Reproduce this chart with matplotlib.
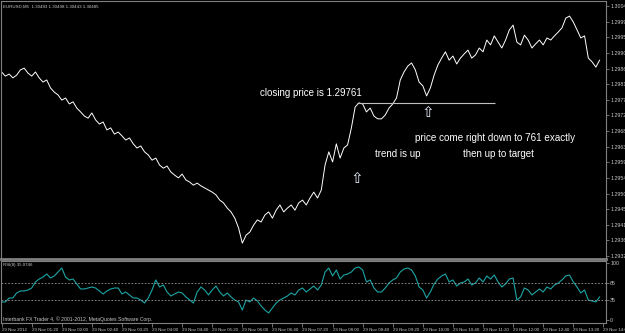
import matplotlib.pyplot as plt
import pandas as pd
import numpy as np

# EURUSD M5, 29 Nov 2012, closes (one per bar from 00:40)
close = [
    1.29850, 1.29838, 1.29844, 1.29833, 1.29841, 1.29856, 1.29861, 1.29847, 1.29838, 1.29850,
    1.29833, 1.29821, 1.29827, 1.29804, 1.29792, 1.29784, 1.29769, 1.29775, 1.29758, 1.29764,
    1.29746, 1.29735, 1.29723, 1.29717, 1.29732, 1.29712, 1.29700, 1.29706, 1.29683, 1.29689,
    1.29671, 1.29677, 1.29666, 1.29654, 1.29660, 1.29643, 1.29631, 1.29637, 1.29620, 1.29611,
    1.29596, 1.29602, 1.29582, 1.29573, 1.29579, 1.29562, 1.29553, 1.29545, 1.29556, 1.29539,
    1.29533, 1.29524, 1.29530, 1.29522, 1.29516, 1.29510, 1.29504, 1.29496, 1.29481, 1.29473,
    1.29458, 1.29447, 1.29429, 1.29401, 1.29357, 1.29380, 1.29389, 1.29409, 1.29424, 1.29418,
    1.29438, 1.29447, 1.29429, 1.29452, 1.29467, 1.29447, 1.29458, 1.29467, 1.29452, 1.29473,
    1.29481, 1.29467, 1.29487, 1.29504, 1.29487, 1.29510, 1.29582, 1.29620, 1.29591, 1.29643,
    1.29602, 1.29631, 1.29640, 1.29689, 1.29749, 1.29761, 1.29758, 1.29735, 1.29746, 1.29723,
    1.29715, 1.29715, 1.29726, 1.29746, 1.29758, 1.29775, 1.29827, 1.29850, 1.29867, 1.29876,
    1.29856, 1.29821, 1.29810, 1.29781, 1.29804, 1.29841, 1.29870, 1.29890, 1.29908, 1.29884,
    1.29896, 1.29873, 1.29890, 1.29902, 1.29913, 1.29890, 1.29899, 1.29919, 1.29908, 1.29942,
    1.29928, 1.29954, 1.29936, 1.29919, 1.29942, 1.29971, 1.29985, 1.29936, 1.29928, 1.29956,
    1.29942, 1.29919, 1.29931, 1.29942, 1.29928, 1.29948, 1.29942, 1.29954, 1.29965, 1.29977,
    1.30005, 1.30011, 1.29994, 1.29971, 1.29948, 1.29954, 1.29890, 1.29879, 1.29864, 1.29884,
]

# RSI(8) values
rsi = [
    31.6, 31.6, 38.6, 38.6, 47.4, 50.9, 50.9, 52.6, 56.1, 66.7,
    71.9, 75.4, 80.7, 73.7, 77.2, 84.2, 91.2, 75.4, 70.2, 71.9,
    63.2, 54.4, 54.4, 56.1, 57.9, 56.1, 50.9, 45.6, 50.9, 54.4,
    56.1, 56.1, 45.6, 49.1, 43.9, 38.6, 38.6, 35.1, 29.8, 38.6,
    52.6, 70.2, 57.9, 61.4, 49.1, 42.1, 45.6, 49.1, 47.4, 40.4,
    35.1, 29.8, 49.1, 57.9, 52.6, 43.9, 52.6, 59.6, 49.1, 42.1,
    47.4, 40.4, 35.1, 31.6, 17.5, 35.1, 31.6, 38.6, 33.3, 24.6,
    17.5, 12.3, 21.1, 29.8, 35.1, 38.6, 42.1, 47.4, 43.9, 52.6,
    56.1, 49.1, 54.4, 59.6, 52.6, 61.4, 84.2, 91.2, 77.2, 87.7,
    71.9, 78.9, 80.7, 84.2, 91.2, 93.0, 87.7, 66.7, 70.2, 56.1,
    49.1, 49.1, 56.1, 64.9, 70.2, 73.7, 84.2, 89.5, 91.2, 87.7,
    77.2, 57.9, 52.6, 38.6, 49.1, 63.2, 71.9, 77.2, 80.7, 66.7,
    70.2, 59.6, 64.9, 66.7, 71.9, 61.4, 64.9, 73.7, 66.7, 77.2,
    71.9, 78.9, 66.7, 57.9, 63.2, 71.9, 73.7, 35.1, 40.4, 56.1,
    52.6, 43.9, 49.1, 54.4, 49.1, 57.9, 54.4, 61.4, 64.9, 70.2,
    77.2, 78.9, 66.7, 57.9, 47.4, 52.6, 35.1, 33.3, 31.6, 40.4,
]

price_ticks = [1.29320, 1.29365, 1.29410, 1.29455, 1.29500, 1.29545, 1.29590, 1.29635, 1.29680,
               1.29725, 1.29770, 1.29815, 1.29860, 1.29905, 1.29950, 1.29995, 1.30040]
time_ticks = ['00:40', '01:20', '02:00', '02:40', '03:20', '04:00', '04:40', '05:20', '06:00',
              '06:40', '07:20', '08:00', '08:40', '09:20', '10:00', '10:40', '11:20', '12:00',
              '12:40', '13:20', '14:00']
time_labels = ['29 Nov 2012'] + ['29 Nov ' + t for t in time_ticks[1:]]
rsi_levels = [35, 65]
closing_level = 1.29761

start = pd.Timestamp('2012-11-29 00:40')
bars = np.arange(len(close))
tick_bars = [(pd.Timestamp('2012-11-29 ' + t) - start) / pd.Timedelta('5min') for t in time_ticks]

W, H = 625, 333
fig = plt.figure(figsize=(W / 100, H / 100), dpi=100, facecolor='black')
plt.rcParams['font.family'] = ['Liberation Sans', 'DejaVu Sans']

def px_axes(x0, y0, x1, y1):
    return fig.add_axes([x0 / W, 1 - y1 / H, (x1 - x0) / W, (y1 - y0) / H])

frame = '#808080'
txt = '#c8c8c8'

ax = px_axes(1, 1, 606, 259)
ax.set_facecolor('black')
ax.plot(bars, close, color='white', lw=0.7)
ax.set_xlim(-0.16, 160.7)
ax.set_ylim(1.293114, 1.300544)
ax.yaxis.tick_right()
ax.set_yticks(price_ticks)
ax.set_yticklabels([f'{p:.5f}' for p in price_ticks])
ax.tick_params(axis='y', colors=frame, labelcolor=txt, labelsize=3.8, length=2, width=0.6, pad=1)
ax.set_xticks([])
for s in ax.spines.values():
    s.set_color(frame)
    s.set_linewidth(0.8)
ax.spines['bottom'].set_linewidth(2)

ax.text(0.004, 0.985, 'EURUSD,M5  1.30483 1.30498 1.30443 1.30485', transform=ax.transAxes,
        color=txt, fontsize=3.2, va='top', ha='left')

# annotations
ax.hlines(closing_level, 94.5, 131.2, color='#bfbfbf', lw=0.8)
ax.text(68.7, 1.29789, 'closing price is 1.29761', color='white', fontsize=7.0, va='center')
ax.text(99.3, 1.29614, 'trend is up', color='white', fontsize=7.0, va='center')
ax.text(110.0, 1.29660, 'price come right down to 761 exactly', color='white', fontsize=7.1, va='center')
ax.text(122.7, 1.29614, 'then up to target', color='white', fontsize=7.0, va='center')
for bx, by in [(94.5, 1.29542), (113.4, 1.29732)]:
    ax.text(bx, by, '\u21e7', color='#e8f0ff', fontsize=11, ha='center', va='center',
            family='DejaVu Sans')

# RSI window
ax2 = px_axes(1, 261, 606, 323)
ax2.set_facecolor('black')
ax2.plot(bars, rsi, color='#1ca5a5', lw=0.8)
for lv in rsi_levels:
    ax2.axhline(lv, color='#9a9a9a', lw=0.6, ls=(0, (2, 2)))
ax2.set_xlim(-0.16, 160.7)
ax2.set_ylim(-5.3, 103.5)
ax2.yaxis.tick_right()
ax2.set_yticks([0, 35, 65, 100])
ax2.set_yticklabels(['0', '35', '65', '100'])
ax2.tick_params(axis='y', colors=frame, labelcolor=txt, labelsize=3.8, length=2, width=0.6, pad=1)
ax2.set_xticks(tick_bars)
ax2.set_xticklabels(time_labels)
ax2.tick_params(axis='x', colors=frame, labelcolor=txt, labelsize=3.2, length=3, width=0.6, pad=0.5)
plt.setp(ax2.get_xticklabels(), ha='left')
for s in ax2.spines.values():
    s.set_color(frame)
    s.set_linewidth(0.8)
ax2.text(0.004, 0.96, 'RSI(8) 35.0746', transform=ax2.transAxes, color=txt, fontsize=3.2,
         va='top', ha='left')
ax2.text(0.004, 0.02, 'Interbank FX Trader 4, \u00a9 2001-2012, MetaQuotes Software Corp.',
         transform=ax2.transAxes, color=txt, fontsize=3.7, va='bottom', ha='left')

fig.savefig('out.png', dpi=100, facecolor='black')
